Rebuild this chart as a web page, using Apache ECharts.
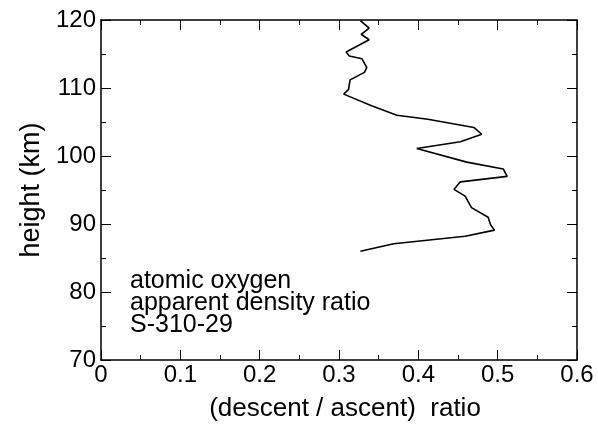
<!DOCTYPE html>
<html>
<head>
<meta charset="utf-8">
<script src="https://cdn.jsdelivr.net/npm/echarts@6/dist/echarts.min.js"></script>
<style>
  html, body { margin: 0; padding: 0; background: #fff; }
  #box { width: 598px; height: 428px; }
</style>
</head>
<body>
<div id="box"></div>
<script>
// descent/ascent ratio profile (top to bottom)
var ratio = [0.327, 0.338, 0.328, 0.338, 0.309, 0.313, 0.329, 0.335, 0.332, 0.314, 0.312, 0.306,
  0.341, 0.373, 0.412, 0.470, 0.480, 0.453, 0.398, 0.461, 0.507, 0.512, 0.453, 0.445, 0.459,
  0.467, 0.488, 0.491, 0.496, 0.459, 0.369, 0.327];
var height = [119.9, 118.8, 117.9, 117.1, 115.3, 114.7, 114.3, 113.0, 112.3, 111.2, 109.8, 109.1,
  107.4, 106.0, 105.4, 104.2, 103.2, 102.1, 101.1, 99.1, 98.1, 97.0, 96.2, 95.1, 94.1,
  92.4, 91.0, 89.9, 89.1, 88.2, 87.1, 86.0];
var noteLines = ['atomic oxygen', 'apparent density ratio', 'S-310-29'];

var font = 'Liberation Sans, Arial, sans-serif';
var pts = ratio.map(function (r, i) { return [r, height[i]]; });

function tickIn() {
  return { show: true, inside: true, length: 10, lineStyle: { color: '#000', width: 1 } };
}
function minorIn() {
  return { show: true, splitNumber: 2, length: 5, lineStyle: { color: '#000', width: 1 } };
}
function line() {
  return { show: true, onZero: false, lineStyle: { color: '#000', width: 1.5 } };
}

var myChart = echarts.init(document.getElementById('box'));
var option = {
  animation: false,
  backgroundColor: '#fff',
  grid: { left: 101, right: 21, top: 20, bottom: 68 },
  title: {
    text: noteLines.join('\n'),
    left: 125, top: 265,
    textStyle: { fontFamily: font, fontSize: 25, fontWeight: 'normal', color: '#000', lineHeight: 22 }
  },
  xAxis: [{
    type: 'value', min: 0, max: 0.6, interval: 0.1,
    name: '(descent / ascent)  ratio', nameLocation: 'middle', nameGap: 36,
    nameTextStyle: { fontFamily: font, fontSize: 26, color: '#000', padding: [0, 0, 0, 12] },
    axisLine: line(), axisTick: tickIn(), minorTick: minorIn(),
    axisLabel: { fontFamily: font, fontSize: 24, color: '#000', margin: 3,
      formatter: function (v) { return v === 0 ? '0' : v.toFixed(1); } },
    splitLine: { show: false }
  }, {
    type: 'value', position: 'top', min: 0, max: 0.6, interval: 0.1,
    axisLine: line(), axisTick: tickIn(), minorTick: minorIn(),
    axisLabel: { show: false }, splitLine: { show: false }
  }],
  yAxis: [{
    type: 'value', min: 70, max: 120, interval: 10,
    name: 'height (km)', nameLocation: 'middle', nameGap: 54,
    nameTextStyle: { fontFamily: font, fontSize: 27, color: '#000' },
    axisLine: line(), axisTick: tickIn(), minorTick: minorIn(),
    axisLabel: { fontFamily: font, fontSize: 24, color: '#000', margin: 5 },
    splitLine: { show: false }
  }, {
    type: 'value', position: 'right', min: 70, max: 120, interval: 10,
    axisLine: line(), axisTick: tickIn(), minorTick: minorIn(),
    axisLabel: { show: false }, splitLine: { show: false }
  }],
  series: [{
    type: 'line',
    data: pts,
    showSymbol: false,
    lineStyle: { color: '#000', width: 1.6 }
  }]
};
myChart.setOption(option);
</script>
</body>
</html>
